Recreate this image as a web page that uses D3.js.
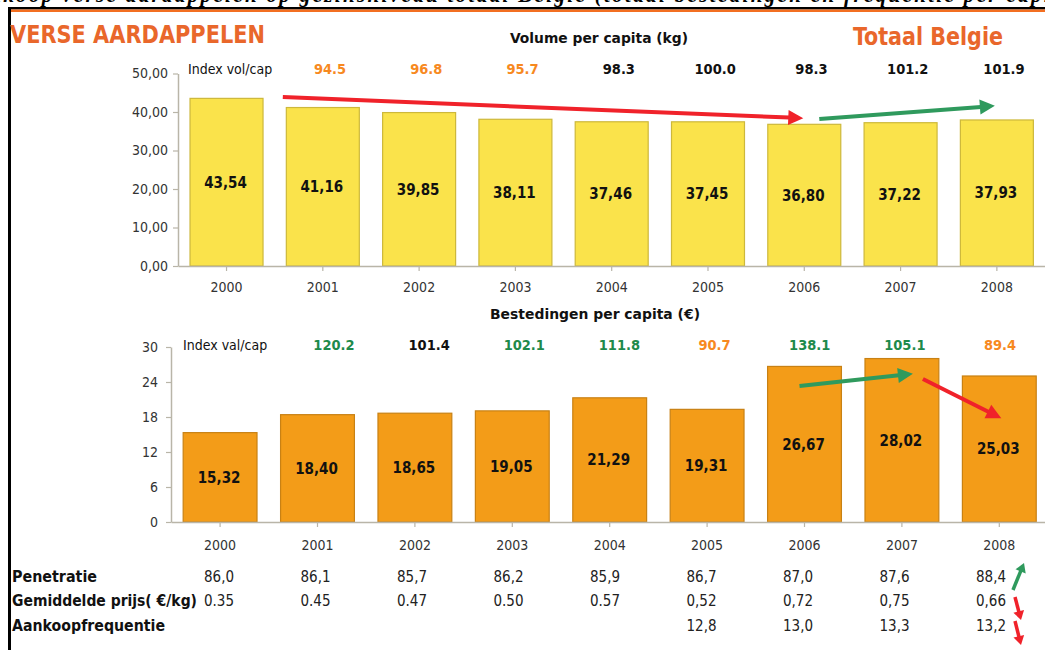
<!DOCTYPE html>
<html><head><meta charset="utf-8">
<script src="https://cdn.jsdelivr.net/npm/d3@7"></script>
<style>
body{margin:0;background:#fff;}
svg{display:block;font-family:'DejaVu Sans Condensed','DejaVu Sans',sans-serif;}
</style></head><body>
<svg id="c" width="1045" height="650"></svg>
<script>
// ---------- data ----------
const years = ["2000","2001","2002","2003","2004","2005","2006","2007","2008"];
const volume = [43.54,41.16,39.85,38.11,37.46,37.45,36.80,37.22,37.93];
const spending = [15.32,18.40,18.65,19.05,21.29,19.31,26.67,28.02,25.03];
const indexYears = ["2001","2002","2003","2004","2005","2006","2007","2008"];
const volIndex = ["94.5","96.8","95.7","98.3","100.0","98.3","101.2","101.9"];
const volIndexColor = ["o","o","o","k","k","k","k","k"];
const valIndex = ["120.2","101.4","102.1","111.8","90.7","138.1","105.1","89.4"];
const valIndexColor = ["g","k","g","g","o","g","g","o"];
const volTicks = [0,10,20,30,40,50];
const valTicks = [0,6,12,18,24,30];
const tableLabels = ["Penetratie","Gemiddelde prijs( €/kg)","Aankoopfrequentie"];
const penetratie = ["86,0","86,1","85,7","86,2","85,9","86,7","87,0","87,6","88,4"];
const prijs = ["0.35","0.45","0.47","0.50","0.57","0,52","0,72","0,75","0,66"];
const frequentie = ["","","","","","12,8","13,0","13,3","13,2"];
// trend arrows: [year, pixel offset from band centre, value]
const topArrows = [
  {from:["2001",-40,43.9], to:["2006",-1,38.4], c:"r"},
  {from:["2006",15,38.2], to:["2008",-2,41.6], c:"g"}
];
const botArrows = [
  {from:["2006",-5,23.3], to:["2007",11,25.4], c:"g"},
  {from:["2007",21,24.5], to:["2008",2,17.8], c:"r"}
];

// ---------- styles ----------
const FONT = "'DejaVu Sans Condensed','DejaVu Sans',sans-serif";
const COL = {o:"#F7891F", g:"#1E8A4B", k:"#111111", r:"#F0222A", ga:"#2F9A5D",
  title:"#E9672B", axis:"#B9B5A8", text:"#333333"};
const svg = d3.select("#c");

// frame
svg.append("text").attr("x",-40).attr("y",2)
  .attr("font-family","'Liberation Serif',serif").attr("font-style","italic").attr("font-weight","bold")
  .attr("font-size",21).attr("textLength",1120).attr("fill","#000")
  .text("Aankoop verse aardappelen op gezinsniveau totaal Belgie (totaal bestedingen en frequentie per capita)");
svg.append("rect").attr("x",8).attr("y",7).attr("width",1040).attr("height",2.5).attr("fill","#000");
svg.append("rect").attr("x",11).attr("y",9.5).attr("width",1040).attr("height",2.5).attr("fill","#F36F21");
svg.append("rect").attr("x",8).attr("y",7).attr("width",3).attr("height",650).attr("fill","#000");

// titles
svg.append("text").attr("x",10).attr("y",43).attr("font-size",24).attr("font-weight","bold")
  .attr("fill",COL.title).attr("textLength",255).attr("lengthAdjust","spacingAndGlyphs").text("VERSE AARDAPPELEN");
svg.append("text").attr("x",853).attr("y",45).attr("font-size",24).attr("font-weight","bold")
  .attr("fill",COL.title).attr("textLength",150).attr("lengthAdjust","spacingAndGlyphs").text("Totaal Belgie");
svg.append("text").attr("x",510).attr("y",43).attr("font-size",14.5).attr("font-weight","bold")
  .attr("fill","#111").attr("textLength",178).attr("lengthAdjust","spacingAndGlyphs").text("Volume per capita (kg)");
svg.append("text").attr("x",490).attr("y",319).attr("font-size",14.5).attr("font-weight","bold")
  .attr("fill","#111").attr("textLength",210).attr("lengthAdjust","spacingAndGlyphs").text("Bestedingen per capita (€)");

const comma2 = v => d3.format(".2f")(v).replace(".",",");

// ---------- scales ----------
const xTop = d3.scaleBand().domain(years).range([178,1045.4]).paddingInner(0.242).paddingOuter(0.125);
const yTop = d3.scaleLinear().domain([0,50]).range([266,73.5]);
const xBot = d3.scaleBand().domain(years).range([171,1048.4]).paddingInner(0.242).paddingOuter(0.125);
const yBot = d3.scaleLinear().domain([0,30]).range([522,347]);
const idxTop = d3.scalePoint().domain(indexYears).range([330,1004]);
const idxBot = d3.scalePoint().domain(indexYears).range([334,1000]);
const xTab = d3.scalePoint().domain(years).range([204,976]);

function styleAxis(g, fs){
  g.select(".domain").attr("stroke",COL.axis).attr("stroke-width",1.5);
  g.selectAll(".tick line").attr("stroke",COL.axis).attr("stroke-width",1.2);
  g.selectAll(".tick text").attr("fill",COL.text).attr("font-size",fs).attr("font-family",FONT);
}

function arrow(g,x1,y1,x2,y2,color,w,hl,hw){
  const dx=x2-x1, dy=y2-y1, L=Math.hypot(dx,dy), ux=dx/L, uy=dy/L;
  const bx=x2-ux*hl, by=y2-uy*hl;
  g.append("line").attr("x1",x1).attr("y1",y1).attr("x2",bx+ux*1).attr("y2",by+uy*1)
    .attr("stroke",color).attr("stroke-width",w);
  g.append("polygon").attr("fill",color)
    .attr("points",[[x2,y2],[bx-uy*hw,by+ux*hw],[bx+uy*hw,by-ux*hw]].map(p=>p.join(",")).join(" "));
}

function chart(opt){
  const {x,y,data,ticks,tickFmt,fill,stroke,idx,idxVals,idxCols,idxLabel,idxY,idxLabelX,tickPad,xPad,arrows} = opt;
  const g = svg.append("g");
  g.selectAll("rect.bar").data(data).join("rect").attr("class","bar")
    .attr("x",(d,i)=>x(years[i])).attr("y",d=>y(d))
    .attr("width",x.bandwidth()).attr("height",d=>y(0)-y(d))
    .attr("fill",fill).attr("stroke",stroke).attr("stroke-width",1.2);
  g.selectAll("text.val").data(data).join("text").attr("class","val")
    .attr("x",(d,i)=>x(years[i])+x.bandwidth()/2-1).attr("y",d=>(y(d)+y(0))/2).attr("dy","0.36em")
    .attr("text-anchor","middle").attr("font-size",15).attr("font-weight","bold").attr("fill","#111")
    .text(d=>comma2(d));
  const ya = g.append("g").attr("transform",`translate(${x.range()[0]},0)`)
    .call(d3.axisLeft(y).tickValues(ticks).tickSize(5).tickSizeOuter(0).tickPadding(tickPad).tickFormat(tickFmt));
  styleAxis(ya,14);
  const xa = g.append("g").attr("transform",`translate(0,${y(0)})`)
    .call(d3.axisBottom(x).tickSize(5).tickSizeOuter(0).tickPadding(xPad));
  styleAxis(xa,14);
  g.append("text").attr("x",idxLabelX).attr("y",idxY).attr("font-size",14).attr("fill","#111")
    .text(idxLabel);
  g.selectAll("text.idx").data(idxVals).join("text").attr("class","idx")
    .attr("x",(d,i)=>idx(indexYears[i])).attr("y",idxY).attr("text-anchor","middle")
    .attr("font-size",14.5).attr("font-weight","bold").attr("fill",(d,i)=>COL[idxCols[i]]).text(d=>d);
  arrows.forEach(a=>{
    const px = p => x(p[0])+x.bandwidth()/2+p[1];
    arrow(g,px(a.from),y(a.from[2]),px(a.to),y(a.to[2]),a.c==="r"?COL.r:COL.ga,4,15,7.5);
  });
}

chart({x:xTop,y:yTop,data:volume,ticks:volTicks,tickFmt:d=>comma2(d),fill:"#FAE34B",stroke:"#CDB83B",
  idx:idxTop,idxVals:volIndex,idxCols:volIndexColor,idxLabel:"Index vol/cap",idxY:74,idxLabelX:188,
  tickPad:5,xPad:11,arrows:topArrows});
chart({x:xBot,y:yBot,data:spending,ticks:valTicks,tickFmt:d=>String(d),fill:"#F39C18",stroke:"#C88114",
  idx:idxBot,idxVals:valIndex,idxCols:valIndexColor,idxLabel:"Index val/cap",idxY:350,idxLabelX:183,
  tickPad:8,xPad:13,arrows:botArrows});

// ---------- table ----------
const rowY = [582,606,631];
const labelW = [85,185,153];
const tg = svg.append("g");
tableLabels.forEach((l,r)=>{
  tg.append("text").attr("x",12).attr("y",rowY[r]).attr("font-size",15).attr("font-weight","bold")
    .attr("fill","#111").attr("textLength",labelW[r]).attr("lengthAdjust","spacingAndGlyphs").text(l);
});
[penetratie,prijs,frequentie].forEach((row,r)=>{
  tg.selectAll("text.r"+r).data(row).join("text").attr("class","r"+r)
    .attr("x",(d,i)=>xTab(years[i])).attr("y",rowY[r]).attr("font-size",15).attr("fill","#222").text(d=>d);
});
const ax = xTab("2008");
arrow(tg,ax+37,rowY[0]+8,ax+48,rowY[0]-19,COL.ga,3.5,9,5.5);
arrow(tg,ax+39,rowY[1]-9,ax+45,rowY[1]+14,COL.r,3.5,9,5.5);
arrow(tg,ax+39,rowY[2]-10,ax+45,rowY[2]+14,COL.r,3.5,9,5.5);
</script>
</body></html>
